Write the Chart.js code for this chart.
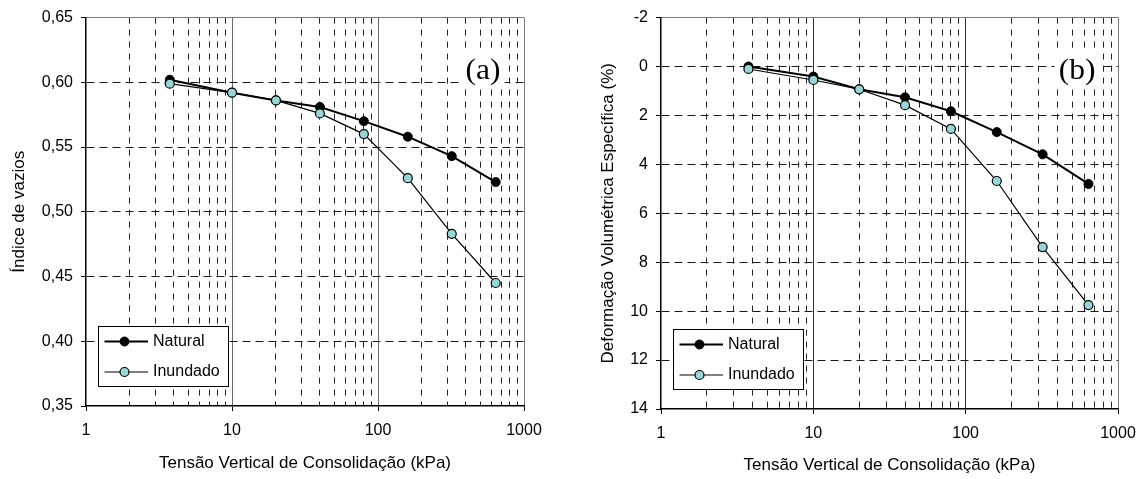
<!DOCTYPE html>
<html>
<head>
<meta charset="utf-8">
<script src="https://cdn.jsdelivr.net/npm/chart.js@4/dist/chart.umd.min.js"></script>
<style>
  html, body { margin: 0; padding: 0; background: #fff; }
  #wrap { position: relative; width: 1147px; height: 479px; }
  canvas { position: absolute; top: 0; }
  #chartA { left: 0; }
  #chartB { left: 573px; }
</style>
</head>
<body>
<div id="wrap">
  <canvas id="chartA" width="573" height="479"></canvas>
  <canvas id="chartB" width="574" height="479"></canvas>
</div>
<script>
// Oedometer test: vertical consolidation stress (kPa)
const stress = [3.75, 10, 20, 40, 80, 160, 320, 640];

// (a) void ratio
const voidNatural   = [0.602, 0.592, 0.586, 0.581, 0.570, 0.558, 0.543, 0.523];
const voidInundado  = [0.599, 0.592, 0.586, 0.576, 0.560, 0.526, 0.483, 0.445];

// (b) specific volumetric strain (%)
const strainNatural  = [0.00, 0.41, 0.93, 1.26, 1.83, 2.68, 3.59, 4.80];
const strainInundado = [0.10, 0.55, 0.93, 1.58, 2.55, 4.68, 7.38, 9.75];

const seriesNames = ['Natural', 'Inundado'];

// axis ticks
const xTicks = [1,2,3,4,5,6,7,8,9,10,20,30,40,50,60,70,80,90,100,200,300,400,500,600,700,800,900,1000];
const yTicksA = [0.35, 0.40, 0.45, 0.50, 0.55, 0.60, 0.65];
const yTicksB = [-2, 0, 2, 4, 6, 8, 10, 12, 14];

const xTitle = 'Tensão Vertical de Consolidação (kPa)';
const yTitleA = 'Índice de vazios';
const yTitleB = 'Deformação Volumétrica Específica (%)';

Chart.defaults.font.family = '"Liberation Sans", Arial, Helvetica, sans-serif';
Chart.defaults.color = '#000';

const CLEAR = 'rgba(0,0,0,0)';
const FRAME = '#7a7a7a';

function isDecade(v) {
  const l = Math.log10(v);
  return Math.abs(l - Math.round(l)) < 1e-9;
}

// boxed legend drawn inside the plot, lower-left corner
const legendBox = {
  id: 'legendBox',
  afterDraw(chart, args, o) {
    const { ctx, chartArea } = chart;
    const x0 = Math.round(chartArea.left + o.dx);
    const y0 = Math.round(chartArea.bottom - o.dy - o.h);
    ctx.save();
    ctx.fillStyle = '#fff';
    ctx.fillRect(x0, y0, o.w, o.h);
    ctx.strokeStyle = '#000';
    ctx.lineWidth = 1;
    ctx.strokeRect(x0 + 0.5, y0 + 0.5, o.w, o.h);
    chart.data.datasets.forEach((ds, i) => {
      const cy = y0 + o.row0 + i * o.gap;
      ctx.strokeStyle = ds.borderColor;
      ctx.lineWidth = ds.borderWidth;
      ctx.beginPath();
      ctx.moveTo(x0 + o.lx0, cy);
      ctx.lineTo(x0 + o.lx1, cy);
      ctx.stroke();
      ctx.beginPath();
      ctx.arc(x0 + o.mx, cy, ds.pointRadius, 0, Math.PI * 2);
      ctx.fillStyle = ds.pointBackgroundColor;
      ctx.fill();
      ctx.lineWidth = ds.pointBorderWidth;
      ctx.strokeStyle = ds.pointBorderColor;
      ctx.stroke();
      ctx.fillStyle = '#000';
      ctx.font = '16px "Liberation Sans", Arial, sans-serif';
      ctx.textAlign = 'left';
      ctx.textBaseline = 'middle';
      ctx.fillText(ds.label, x0 + o.tx, cy);
    });
    ctx.restore();
  }
};

// panel tag "(a)" / "(b)" on a white box
const panelTag = {
  id: 'panelTag',
  beforeDatasetsDraw(chart, args, o) {
    const { ctx, chartArea } = chart;
    ctx.save();
    ctx.font = o.size + 'px "Liberation Serif", "Times New Roman", Times, serif';
    const w = ctx.measureText(o.text).width * o.sx;
    const cx = chartArea.right - o.dx;
    const by = chartArea.top + o.dy;
    ctx.fillStyle = '#fff';
    ctx.fillRect(cx - w / 2 - 4, by - o.size * 0.85, w + 8, o.size * 1.15);
    ctx.translate(cx, by);
    ctx.scale(o.sx, 1);
    ctx.fillStyle = '#000';
    ctx.textAlign = 'center';
    ctx.textBaseline = 'alphabetic';
    ctx.fillText(o.text, 0, 0);
    ctx.restore();
  }
};

function makeDatasets(natural, inundado) {
  return [
    {
      label: seriesNames[0],
      data: stress.map((s, i) => ({ x: s, y: natural[i] })),
      showLine: true,
      borderColor: '#000',
      borderWidth: 2,
      pointRadius: 4.5,
      pointBackgroundColor: '#000',
      pointBorderColor: '#000',
      pointBorderWidth: 1,
      order: 1
    },
    {
      label: seriesNames[1],
      data: stress.map((s, i) => ({ x: s, y: inundado[i] })),
      showLine: true,
      borderColor: '#000',
      borderWidth: 1.2,
      pointRadius: 4.5,
      pointBackgroundColor: '#96d6d6',
      pointBorderColor: '#000',
      pointBorderWidth: 1.2,
      order: 0
    }
  ];
}

function makeChart(id, p) {
  const xScale = {
    type: 'logarithmic',
    min: 1,
    max: 1000,
    afterBuildTicks: s => { s.ticks = xTicks.map(v => ({ value: v })); },
    afterFit: s => { s.height = p.xAxisH; },
    ticks: {
      autoSkip: false,
      maxRotation: 0,
      padding: 10,
      font: { size: 16 },
      color: '#000',
      callback: v => (isDecade(v) ? String(v) : '')
    },
    grid: {
      tickLength: 5,
      tickWidth: 1,
      tickColor: c => (c.tick && isDecade(c.tick.value) ? '#000' : CLEAR),
      lineWidth: 1,
      color: c => {
        if (!c.tick) return '#000';
        const v = c.tick.value;
        if (v === 1) return CLEAR;
        if (v === 1000) return FRAME;
        if (isDecade(v)) return p.decadeColor;
        return '#222';
      }
    },
    border: {
      color: '#000',
      width: 1.5,
      dash: c => (c.tick && !isDecade(c.tick.value) ? [6, 6] : [])
    },
    title: {
      display: true,
      text: xTitle,
      font: { size: 17 },
      color: '#000',
      padding: { top: 0, bottom: p.xTitlePad }
    }
  };

  const yScale = {
    type: 'linear',
    min: p.yMin,
    max: p.yMax,
    reverse: p.reverse,
    afterBuildTicks: s => { s.ticks = p.yTicks.map(v => ({ value: v })); },
    afterFit: s => { s.width = p.yAxisW; },
    ticks: {
      autoSkip: false,
      padding: 8,
      font: { size: 16 },
      color: '#000',
      callback: p.yFormat
    },
    grid: {
      tickLength: 5,
      tickWidth: 1,
      tickColor: '#000',
      lineWidth: 1,
      color: c => {
        if (!c.tick) return '#000';
        const v = c.tick.value;
        if (v === p.yTopValue) return FRAME;
        if (v === p.yBottomValue) return CLEAR;
        return '#1a1a1a';
      }
    },
    border: {
      color: '#000',
      width: 1.5,
      dash: c => {
        if (!c.tick) return [];
        const v = c.tick.value;
        return (v === p.yTopValue || v === p.yBottomValue) ? [] : [8, 5];
      }
    },
    title: {
      display: true,
      text: p.yTitle,
      font: { size: 17 },
      color: '#000',
      padding: { top: p.yTitlePad, bottom: 0 }
    }
  };

  return new Chart(document.getElementById(id), {
    type: 'scatter',
    data: { datasets: makeDatasets(p.natural, p.inundado) },
    options: {
      responsive: false,
      animation: false,
      events: [],
      layout: { padding: { left: 0, right: p.padRight, top: 16, bottom: 0 } },
      scales: { x: xScale, y: yScale },
      plugins: {
        legend: { display: false },
        tooltip: { enabled: false },
        legendBox: { dx: 11.5, dy: 20, w: 130, h: 60, row0: 15.5, gap: 30.5, lx0: 6.5, lx1: 50, mx: 26.5, tx: 55 },
        panelTag: { text: p.tag, size: 30, sx: 1.05, dx: 41, dy: 61 }
      }
    },
    plugins: [legendBox, panelTag]
  });
}

makeChart('chartA', {
  natural: voidNatural,
  inundado: voidInundado,
  yMin: 0.35, yMax: 0.65, reverse: false,
  yTicks: yTicksA,
  yTopValue: 0.65, yBottomValue: 0.35,
  yFormat: v => v.toFixed(2).replace('.', ','),
  yTitle: yTitleA,
  yTitlePad: 9,
  yAxisW: 86,
  xAxisH: 73,
  xTitlePad: 5,
  padRight: 49,
  decadeColor: '#6a6a6a',
  tag: '(a)'
});

makeChart('chartB', {
  natural: strainNatural,
  inundado: strainInundado,
  yMin: -2, yMax: 14, reverse: true,
  yTicks: yTicksB,
  yTopValue: -2, yBottomValue: 14,
  yFormat: v => String(v),
  yTitle: yTitleB,
  yTitlePad: 25,
  yAxisW: 88,
  xAxisH: 70,
  xTitlePad: 3,
  padRight: 29,
  decadeColor: '#333',
  tag: '(b)'
});
</script>
</body>
</html>
